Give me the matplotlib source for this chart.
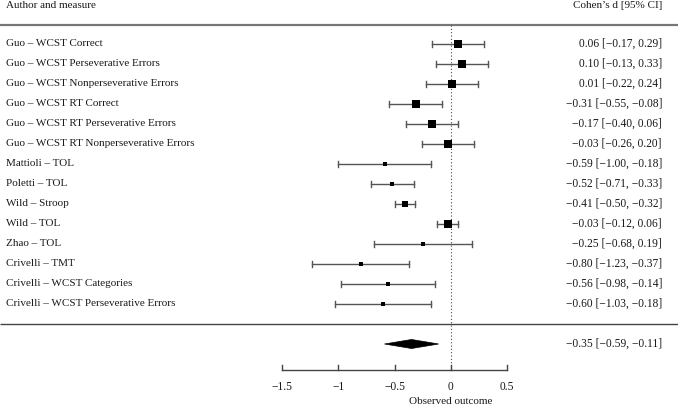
import matplotlib
matplotlib.use("Agg")
import matplotlib.pyplot as plt
from matplotlib.patches import Polygon

labels = [
    "Guo – WCST Correct",
    "Guo – WCST Perseverative Errors",
    "Guo – WCST Nonperseverative Errors",
    "Guo – WCST RT Correct",
    "Guo – WCST RT Perseverative Errors",
    "Guo – WCST RT Nonperseverative Errors",
    "Mattioli – TOL",
    "Poletti – TOL",
    "Wild – Stroop",
    "Wild – TOL",
    "Zhao – TOL",
    "Crivelli – TMT",
    "Crivelli – WCST Categories",
    "Crivelli – WCST Perseverative Errors",
]
est = [0.06, 0.10, 0.01, -0.31, -0.17, -0.03, -0.59, -0.52, -0.41, -0.03, -0.25, -0.80, -0.56, -0.60]
lo = [-0.17, -0.13, -0.22, -0.55, -0.40, -0.26, -1.00, -0.71, -0.50, -0.12, -0.68, -1.23, -0.98, -1.03]
hi = [0.29, 0.33, 0.24, -0.08, 0.06, 0.20, -0.18, -0.33, -0.32, 0.06, 0.19, -0.37, -0.14, -0.18]
# relative study weights (marker size)
weights = [7.5, 7.5, 7.5, 7.5, 7.5, 7.5, 3.2, 4.0, 6.8, 7.5, 3.2, 3.8, 3.8, 3.8]
summary = (-0.35, -0.59, -0.11)
xticks = [-1.5, -1, -0.5, 0, 0.5]
xticklabels = ["−1.5", "−1", "−0.5", "0", "0.5"]

W, H = 678, 407
fig = plt.figure(figsize=(W / 100, H / 100), dpi=100)
ax = fig.add_axes([0, 0, 1, 1])
ax.axis("off")

px = 112.7  # pixels per unit
x0 = 451.0  # pixel of zero
ax.set_xlim(-x0 / px, (W - x0) / px)
row0, rowh = 44.0, 20.0
ax.set_ylim((H - row0) / rowh, -row0 / rowh)

def ypx(p):
    return (p - row0) / rowh

font = "Liberation Serif"
fs_l = 8.0
fs_r = 8.3
gray = "#555555"
tc = "#1a1a1a"

# header
ax.text(-x0 / px + 6 / px, ypx(6), "Author and measure", ha="left", va="center",
        fontsize=fs_l, family=font, color=tc)
ax.text((662 - x0) / px, ypx(6), "Cohen’s d [95% CI]", ha="right", va="center",
        fontsize=fs_l, family=font, color=tc)

# separator lines
ax.plot([-x0 / px, (W - x0) / px], [ypx(25)] * 2, color="#777777", lw=1.6, solid_capstyle="butt")
ax.plot([-x0 / px, (W - x0) / px], [ypx(324)] * 2, color="#444444", lw=1.0, solid_capstyle="butt")

# reference line
ax.plot([0, 0], [ypx(25), ypx(370)], color="#444444", lw=0.8, ls=(0, (1, 2)))

capw = 3.0 / rowh
for i, (lab, e, l, h, w) in enumerate(zip(labels, est, lo, hi, weights)):
    ax.text(-x0 / px + 6 / px, i, lab, ha="left", va="center", fontsize=fs_l,
            family=font, color=tc)
    ax.plot([l, h], [i, i], color=gray, lw=1.0)
    ax.plot([l, l], [i - capw, i + capw], color=gray, lw=1.0)
    ax.plot([h, h], [i - capw, i + capw], color=gray, lw=1.0)
    ax.plot([e], [i], marker="s", color="black", markersize=w / 1.389, mec="black", mew=0)
    txt = f"{e:.2f} [{l:.2f}, {h:.2f}]".replace("-", "−")
    ax.text((662 - x0) / px, i, txt, ha="right", va="center", fontsize=fs_r,
            family=font, color=tc)

# summary diamond
ys = ypx(344)
dh = 4.5 / rowh
m, sl, sh = summary
ax.add_patch(Polygon([[sl, ys], [m, ys - dh], [sh, ys], [m, ys + dh]], closed=True,
                     facecolor="black", edgecolor="black", lw=0.5))
ax.text((662 - x0) / px, ys, f"{m:.2f} [{sl:.2f}, {sh:.2f}]".replace("-", "−"),
        ha="right", va="center", fontsize=fs_r, family=font, color=tc)

# x axis
ya = ypx(370)
ax.plot([xticks[0], xticks[-1]], [ya, ya], color="#444444", lw=1.0)
for t, tl in zip(xticks, xticklabels):
    ax.plot([t, t], [ya, ya - 5 / rowh], color="#444444", lw=1.0)
    ax.text(t, ypx(387), tl, ha="center", va="center", fontsize=fs_r, family=font, color=tc)
ax.text(0, ypx(402), "Observed outcome", ha="center", va="center", fontsize=fs_l,
        family=font, color=tc)

fig.savefig("out.png", dpi=100)
